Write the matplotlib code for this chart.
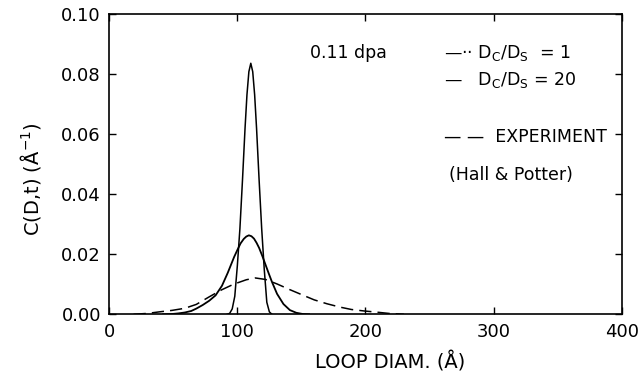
import numpy as np
import matplotlib
matplotlib.use("Agg")
import matplotlib.pyplot as plt

# Dc/Ds = 1 (narrow peak)
narrow_d = [92, 94, 96, 98, 100, 102, 104, 106, 107.5, 109, 110.5, 112, 113.5, 115, 117,
            119, 121, 123, 125, 127]
narrow_c = [0.0, 0.0003, 0.0018, 0.0060, 0.0162, 0.0285, 0.0446, 0.0619, 0.0731, 0.0808,
            0.0836, 0.0808, 0.0731, 0.0619, 0.0446, 0.0285, 0.0150, 0.0040, 0.0008, 0.0]

# Dc/Ds = 20
medium_d = [42, 49, 54, 59, 64, 68, 73, 78, 83, 88, 92.5, 97.5, 100, 102.5, 105, 107, 109,
            111, 113, 115, 117, 119.5, 122, 124.5, 127, 131, 136, 141, 146, 151, 156]
medium_c = [0.0, 0.0001, 0.0003, 0.0006, 0.0011, 0.0019, 0.0031, 0.0045, 0.0063, 0.0095,
            0.0138, 0.0191, 0.0214, 0.0236, 0.0251, 0.0259, 0.0263, 0.0260, 0.0252, 0.0238,
            0.0221, 0.0194, 0.0165, 0.0136, 0.0108, 0.0068, 0.0034, 0.0014, 0.0005, 0.0001, 0.0]

# experiment (Hall & Potter)
exp_d = [19, 30, 39, 49, 59, 68, 78, 88, 97, 107, 114, 122, 131, 141, 151, 160, 170, 180,
         189, 199, 209, 218, 230]
exp_c = [0.0, 0.0003, 0.0008, 0.0013, 0.0020, 0.0033, 0.0058, 0.0082, 0.0100, 0.0115, 0.0121,
         0.0116, 0.0101, 0.0082, 0.0064, 0.0048, 0.0035, 0.0024, 0.0016, 0.0011, 0.0007,
         0.0003, 0.0]

plt.rcParams['font.family'] = ['DejaVu Sans']
plt.rcParams['mathtext.fontset'] = 'dejavusans'

fig = plt.figure(figsize=(6.41, 3.83), dpi=100)
ax = fig.add_axes([0.1704, 0.1794, 0.7995, 0.784])

ax.plot(narrow_d, narrow_c, color='black', lw=1.1)
ax.plot(medium_d, medium_c, color='black', lw=1.3)
ax.plot(exp_d, exp_c, color='black', lw=1.1, dashes=(8, 4))

ax.set_xlim(0, 400)
ax.set_ylim(0, 0.10)
ax.set_xticks([0, 100, 200, 300, 400])
ax.set_yticks([0.0, 0.02, 0.04, 0.06, 0.08, 0.10])
ax.set_yticklabels(['0.00', '0.02', '0.04', '0.06', '0.08', '0.10'])
ax.tick_params(direction='in', length=5, width=1, top=True, right=True, labelsize=13, pad=6)
for s in ax.spines.values():
    s.set_linewidth(1.2)

ax.set_xlabel('LOOP DIAM. (Å)', fontsize=14)
ax.xaxis.set_label_coords(0.548, -0.125)
ax.set_ylabel('C(D,t) (Å$^{-1}$)', fontsize=14)
ax.yaxis.set_label_coords(-0.13, 0.45)

# annotations / legend as in the figure
fs = 12.5
ax.text(157, 0.0871, '0.11 dpa', fontsize=fs, va='center')
ax.text(261, 0.0871, '—·· D$_\\mathsf{C}$/D$_\\mathsf{S}$  = 1', fontsize=fs, va='center')
ax.text(261, 0.0781, '—   D$_\\mathsf{C}$/D$_\\mathsf{S}$ = 20', fontsize=fs, va='center')
ax.text(261, 0.0592, '— —  EXPERIMENT', fontsize=fs, va='center')
ax.text(265, 0.0464, '(Hall & Potter)', fontsize=fs, va='center')

fig.savefig('out.png', dpi=100)
